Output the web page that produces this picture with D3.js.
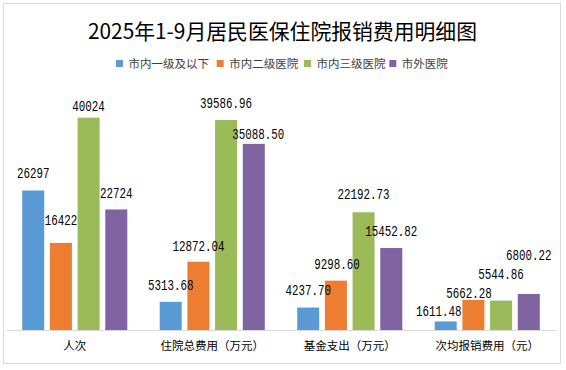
<!DOCTYPE html>
<html><head><meta charset="utf-8">
<script src="https://cdn.jsdelivr.net/npm/d3@7"></script>
<style>
html,body{margin:0;padding:0;background:#fff;}
svg{display:block;}
</style></head>
<body>
<svg id="chart" width="566" height="370"></svg>
<script>
const title = "2025年1-9月居民医保住院报销费用明细图";
const categories = ["人次", "住院总费用（万元）", "基金支出（万元）", "次均报销费用（元）"];
const seriesNames = ["市内一级及以下", "市内二级医院", "市内三级医院", "市外医院"];
const level1 = [26297, 5313.68, 4237.70, 1611.48];
const level2 = [16422, 12872.04, 9298.60, 5662.28];
const level3 = [40024, 39586.96, 22192.73, 5544.86];
const outside = [22724, 35088.50, 15452.82, 6800.22];
const labelText = [
  ["26297", "5313.68", "4237.70", "1611.48"],
  ["16422", "12872.04", "9298.60", "5662.28"],
  ["40024", "39586.96", "22192.73", "5544.86"],
  ["22724", "35088.50", "15452.82", "6800.22"]
];

const seriesValues = [level1, level2, level3, outside];
const colors = ["#5B9BD5", "#ED7D31", "#9BBB59", "#8064A2"];

// label nudges (layout): [dy of text centre from bar top, dx] per series, per category
const labelNudge = [
  [[-17.7,0],[-16.4,0],[-17.4,0],[-10.4,-7]],
  [[-23,0],[-16,0],[-17.2,1],[-7.5,-4.3]],
  [[-11.4,0],[-17,0],[-18.5,0],[-27,0]],
  [[-17,0],[-9.7,4.5],[-17.2,0],[-38.7,0]]
];

const svg = d3.select("#chart");
const W = 566, H = 370;
const baseY = 330, left = 6, right = 556;

svg.append("rect").attr("x", 3.5).attr("y", 3.5).attr("width", 557).attr("height", 360)
  .attr("fill", "#fff").attr("stroke", "#d9d9d9").attr("stroke-width", 1);

svg.append("text").attr("x", 282.5).attr("y", 38.5).attr("text-anchor", "middle")
  .attr("font-family", "'Noto Sans CJK SC', sans-serif").attr("font-size", 21)
  .attr("fill", "#000").attr("textLength", 389).attr("lengthAdjust", "spacingAndGlyphs")
  .text(title);

// legend
const legendX = [116, 216.7, 304, 389.3];
const legend = svg.append("g");
seriesNames.forEach((n, i) => {
  legend.append("rect").attr("x", legendX[i]).attr("y", 60).attr("width", 7).attr("height", 7).attr("fill", colors[i]);
  legend.append("text").attr("x", legendX[i] + 12.5).attr("y", 68)
    .attr("font-family", "'Noto Sans CJK SC', sans-serif").attr("font-size", 11.5)
    .attr("fill", "#404040").text(n);
});

const x0 = d3.scaleBand().domain(categories).range([left, right]).paddingInner(0).paddingOuter(0);
const x1 = d3.scaleBand().domain(d3.range(seriesNames.length)).range([0, x0.bandwidth()])
  .paddingInner(0.205).paddingOuter(0.585);
const y = d3.scaleLinear().domain([0, 45000]).range([baseY, baseY - 45000 * 212.3 / 40024]);

const bars = svg.append("g");
seriesValues.forEach((vals, s) => {
  bars.selectAll(null).data(vals).enter().append("rect")
    .attr("x", (d, c) => x0(categories[c]) + x1(s))
    .attr("y", d => y(d))
    .attr("width", x1.bandwidth())
    .attr("height", d => baseY - y(d))
    .attr("fill", colors[s]);
});

// axis
const xAxis = d3.axisBottom(x0).tickSize(0).tickPadding(10);
const ax = svg.append("g").attr("transform", `translate(0,${baseY})`).call(xAxis);
ax.select(".domain").attr("stroke", "#d9d9d9").attr("stroke-width", 1.2);
ax.selectAll("text").attr("font-family", "'Noto Sans CJK SC', sans-serif")
  .attr("font-size", 11.5).attr("fill", "#000").attr("dy", "0.9em");

// data labels
const lab = svg.append("g");
seriesValues.forEach((vals, s) => {
  vals.forEach((v, c) => {
    const t = labelText[s][c];
    const nud = labelNudge[s][c];
    lab.append("text")
      .attr("x", x0(categories[c]) + x1(s) + x1.bandwidth() / 2 + nud[1])
      .attr("y", y(v) + nud[0])
      .attr("dy", "0.36em")
      .attr("text-anchor", "middle")
      .attr("font-family", "'Liberation Mono', monospace")
      .attr("font-size", 14)
      .attr("fill", "#000")
      .attr("textLength", t.length * 6.5)
      .attr("lengthAdjust", "spacingAndGlyphs")
      .text(t);
  });
});
</script>
</body></html>
